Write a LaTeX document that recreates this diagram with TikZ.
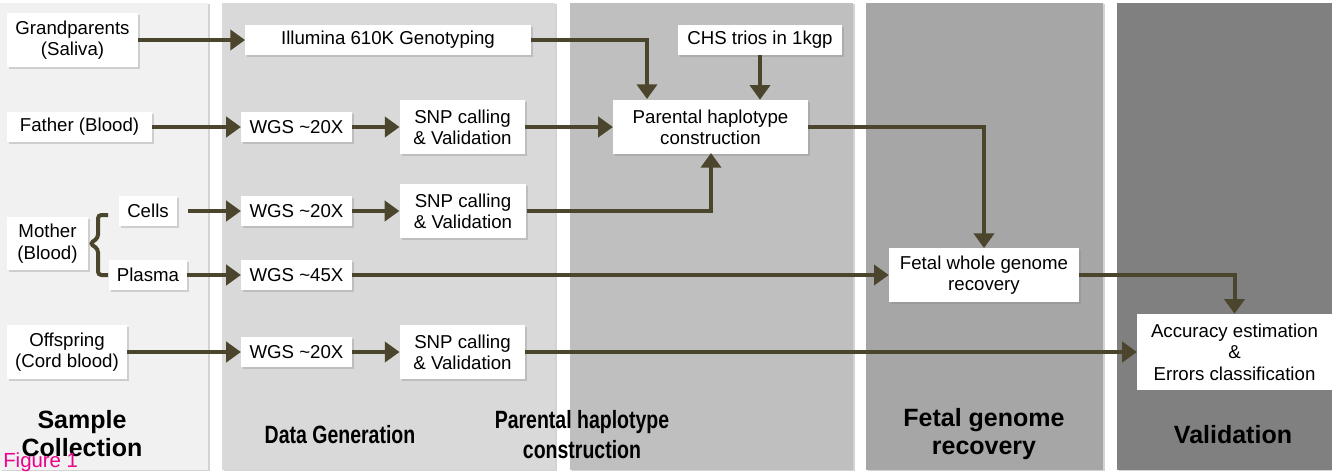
\documentclass[tikz,border=0pt]{standalone}
\usepackage{fontspec}
\setmainfont{Liberation Sans}
\newfontfamily\narrowsans[FakeStretch=0.78]{Liberation Sans}
\usepackage{tikz}
\usetikzlibrary{arrows.meta,shadows}
\definecolor{arrowcol}{RGB}{74,69,44}
\definecolor{panelA}{RGB}{241,241,241}
\definecolor{panelB}{RGB}{217,217,217}
\definecolor{panelC}{RGB}{191,191,191}
\definecolor{panelD}{RGB}{166,166,166}
\definecolor{panelE}{RGB}{128,128,128}
\tikzset{
  stagepanel/.style={draw=none, drop shadow={shadow xshift=1.2pt, shadow yshift=-0.6pt, opacity=0.35}},
  samplebox/.style={fill=white, inner sep=0pt, align=center, font=\fontsize{14}{16}\selectfont,
    drop shadow={shadow xshift=1.4pt, shadow yshift=-1.4pt, opacity=0.3}},
  stagetitle/.style={align=center, font=\fontsize{18.75}{21}\selectfont\bfseries},
  narrowtitle/.style={align=center, font=\fontsize{18.75}{22.5}\selectfont\narrowsans\bfseries},
  flow/.style={draw=arrowcol, line width=3pt, -{Triangle[length=11pt,width=15pt]}},
}
\begin{document}
\begin{tikzpicture}[x=0.75pt, y=-0.75pt]
                \useasboundingbox (0,0) rectangle (1332,472);
                \fill[panelA, stagepanel] (0,3) rectangle (208,470);
                \fill[panelB, stagepanel] (222,3) rectangle (555,470);
                \fill[panelC, stagepanel] (570,3) rectangle (853,470);
                \fill[panelD, stagepanel] (866,3) rectangle (1103,470);
                \fill[panelE, stagepanel] (1117,3) rectangle (1332,470);

                \node[samplebox, minimum width=98pt, minimum height=40.5pt] (grand) at (72.5,40) {Grandparents\\(Saliva)};
                \node[samplebox, minimum width=109pt, minimum height=22.5pt] (father) at (79.5,127) {Father (Blood)};
                \node[samplebox, minimum width=61pt, minimum height=40pt] (mother) at (47.5,243.5) {Mother\\(Blood)};
                \node[samplebox, minimum width=43.5pt, minimum height=22.5pt] (cells) at (148,211) {Cells};
                \node[samplebox, minimum width=58.5pt, minimum height=22pt] (plasma) at (148,275) {Plasma};
                \node[samplebox, minimum width=90pt, minimum height=40pt] (offspring) at (67,352) {Offspring\\(Cord blood)};

                \node[samplebox, minimum width=214pt, minimum height=22pt] (illum) at (388,40) {Illumina 610K Genotyping};
                \node[samplebox, minimum width=83pt, minimum height=22.5pt] (wgsF) at (296.5,127) {WGS \textasciitilde20X};
                \node[samplebox, minimum width=94pt, minimum height=40pt] (snpF) at (462.5,127) {SNP calling\\\& Validation};
                \node[samplebox, minimum width=83pt, minimum height=22.5pt] (wgsC) at (296.5,211) {WGS \textasciitilde20X};
                \node[samplebox, minimum width=95pt, minimum height=40pt] (snpC) at (463,211) {SNP calling\\\& Validation};
                \node[samplebox, minimum width=83pt, minimum height=22.5pt] (wgsP) at (296.5,275) {WGS \textasciitilde45X};
                \node[samplebox, minimum width=83pt, minimum height=22.5pt] (wgsO) at (296.5,352) {WGS \textasciitilde20X};
                \node[samplebox, minimum width=94pt, minimum height=40pt] (snpO) at (462.5,352) {SNP calling\\\& Validation};

                \node[samplebox, minimum width=123pt, minimum height=22.5pt] (chs) at (760,40) {CHS trios in 1kgp};
                \node[samplebox, minimum width=146pt, minimum height=40.5pt] (phc) at (710.5,127) {Parental haplotype\\construction};
                \node[samplebox, minimum width=142.5pt, minimum height=40pt] (fetal) at (984,275) {Fetal whole genome\\recovery};
                \node[samplebox, minimum width=146pt, minimum height=57pt] (acc) at (1234.5,352) {Accuracy estimation\\\&\\Errors classification};

                \coordinate (illumdrop) at (647,99);
                \coordinate (cellsup) at (711,153);

                \draw[arrowcol, line width=3pt, rounded corners=2.5pt]
                    (108,215) -- (98,215) -- (98,238) -- (90,243.5) -- (98,249) -- (98,275) -- (108,275);

                \draw[flow] (grand.east |- illum) -- (illum.west);
                \draw[flow] (father) -- (wgsF);
                \draw[flow, shorten <=8pt] (cells) -- (wgsC);
                \draw[flow] (plasma) -- (wgsP);
                \draw[flow] (offspring) -- (wgsO);
                \draw[flow] (wgsF) -- (snpF);
                \draw[flow] (wgsC) -- (snpC);
                \draw[flow] (wgsO) -- (snpO);
                \draw[flow] (illum.east) -| (illumdrop);
                \draw[flow] (chs) -- (chs.south |- phc.north);
                \draw[flow] (snpF) -- (phc);
                \draw[flow] (snpC.east) -| (cellsup);
                \draw[flow] (phc.east) -| (fetal.north);
                \draw[flow] (wgsP) -- (fetal);
                \draw[flow] (fetal.east) -| (acc.north);
                \draw[flow] (snpO) -- (acc);

                \node[stagetitle] (t1) at (82,434) {Sample\\Collection};
                \node[narrowtitle] (t2) at (340,435) {Data Generation};
                \node[narrowtitle] (t3) at (582,435) {Parental haplotype\\construction};
                \node[stagetitle] (t4) at (984,434) {Fetal genome\\recovery};
                \node[stagetitle] (t5) at (1233,435) {Validation};
                \node[magenta, anchor=base west, inner sep=0pt, font=\fontsize{15.3}{18}\selectfont] (figlabel) at (3,467) {Figure 1};
            \end{tikzpicture}
\end{document}
